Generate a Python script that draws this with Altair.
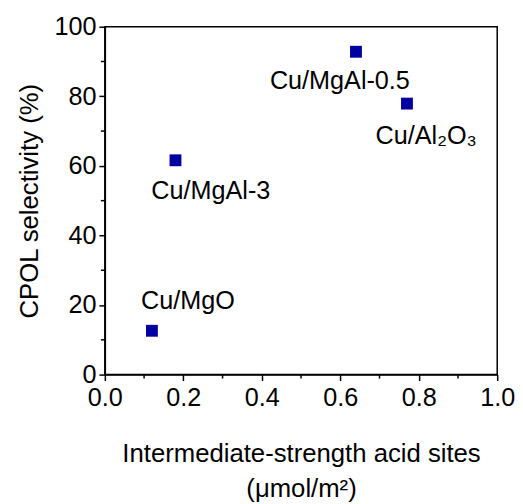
import altair as alt
import pandas as pd

# data
catalysts = ["Cu/MgO", "Cu/MgAl-3", "Cu/MgAl-0.5", "Cu/Al₂O₃"]
acid_sites = [0.12, 0.18, 0.64, 0.77]
selectivity = [12.6, 61.6, 92.8, 77.9]
# annotation anchor positions (data units)
label_x = [0.2116, 0.27, 0.599, 0.69]
label_y = [18.75, 50.6, 82.2, 66.2]
label_align = ["center", "center", "center", "left"]

x_major = [0.0, 0.2, 0.4, 0.6, 0.8, 1.0]
x_minor = [0.1, 0.3, 0.5, 0.7, 0.9]
y_major = [0, 20, 40, 60, 80, 100]
y_minor = [10, 30, 50, 70, 90]

df = pd.DataFrame({"cat": catalysts, "x": acid_sites, "y": selectivity,
                   "lx": label_x, "ly": label_y, "al": label_align})

FONT = "Liberation Sans"
FS = 25.5
W, H = 397, 352

xs = alt.Scale(domain=[0, 1], nice=False, zero=False)
ys = alt.Scale(domain=[0, 100], nice=False, zero=False)

points = alt.Chart(df).mark_point(shape="square", filled=True, size=144,
                                  color="#0000A0", opacity=1).encode(
    x=alt.X("x:Q", scale=xs,
            axis=alt.Axis(orient="bottom", values=x_major, format=".1f",
                          title=["Intermediate-strength acid sites", "(μmol/m²)"],
                          tickSize=6, grid=False, titlePadding=30,
                          titleLineHeight=36, labelFlush=False, labelPadding=5)),
    y=alt.Y("y:Q", scale=ys,
            axis=alt.Axis(orient="left", values=y_major, format="d",
                          title="CPOL selectivity (%)", tickSize=6, grid=False,
                          titlePadding=12, labelFlush=False, labelPadding=3)),
)

xminor = alt.Chart(pd.DataFrame({"v": x_minor})).mark_rule(
    color="black", strokeWidth=1.5).encode(
    x=alt.X("v:Q", scale=xs, axis=None),
    y=alt.value(H), y2=alt.value(H + 4),
)
yminor = alt.Chart(pd.DataFrame({"v": y_minor})).mark_rule(
    color="black", strokeWidth=1.5).encode(
    y=alt.Y("v:Q", scale=ys, axis=None),
    x=alt.value(0), x2=alt.value(-4),
)

label_layers = []
for al in ["center", "left"]:
    label_layers.append(
        alt.Chart(df[df["al"] == al]).mark_text(
            font=FONT, fontSize=FS, color="black", align=al,
            baseline="alphabetic").encode(
            x=alt.X("lx:Q", scale=xs, axis=None),
            y=alt.Y("ly:Q", scale=ys, axis=None),
            text="cat:N",
        )
    )

chart = alt.layer(points, xminor, yminor, *label_layers).resolve_axis(
    x="independent", y="independent"
).properties(
    width=W, height=H,
    autosize=alt.AutoSizeParams(type="none"),
    padding={"left": 98, "top": 16, "right": 18, "bottom": 128},
).configure_view(
    stroke="black", strokeWidth=1.5
).configure_axis(
    labelFont=FONT, titleFont=FONT, labelFontSize=FS, titleFontSize=26,
    labelColor="black", titleColor="black", titleFontWeight="normal",
    domainColor="black", tickColor="black", domainWidth=1.5, tickWidth=1.5,
)

chart.save("out.html", embed_options={"renderer": "svg", "actions": False})
